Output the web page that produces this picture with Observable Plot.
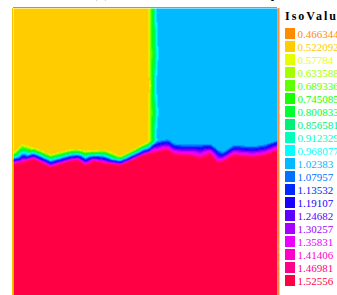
<!DOCTYPE html>
<html><head><meta charset="utf-8">
<script src="https://cdn.jsdelivr.net/npm/d3@7"></script>
<script src="https://cdn.jsdelivr.net/npm/@observablehq/plot@0.6"></script>
<style>
html,body{margin:0;padding:0;background:#fff;overflow:hidden;width:337px;height:295px;}
#wrap{position:relative;width:337px;height:295px;overflow:hidden;background:#fff;}
#title{position:absolute;left:92px;top:-16px;font:bold 16px "Liberation Serif",serif;line-height:16px;white-space:nowrap;color:#000;}
#head{position:absolute;left:285px;top:10px;font:bold 12px "Liberation Serif",serif;line-height:13px;letter-spacing:2px;white-space:nowrap;color:#000;}
#main{position:absolute;left:0;top:0;width:280px;}
#legend{position:absolute;left:285px;top:0;width:60px;height:295px;}
#legend svg, #main svg{max-width:none;}
</style></head>
<body><div id="wrap">
<div id="main"></div>
<div id="title">(c) Concentration at 10 day</div>
<div id="head">IsoValue</div>
<div id="legend"></div>
</div>
<script>
// Iso-value levels and their colours (legend)
const levels = [0.466344,0.522092,0.57784,0.633588,0.689336,0.745085,0.800833,0.856581,0.912329,0.968077,
                1.02383,1.07957,1.13532,1.19107,1.24682,1.30257,1.35831,1.41406,1.46981,1.52556];
const levelColors = ["#FF8C00","#FFCC00","#E6FF00","#A3FF00","#5EFF00","#15FF00","#00FF2F","#00F077","#00FFBB","#00FFFF",
                     "#00B9FF","#0072FF","#0028FF","#1A00FF","#5F00FF","#A600FF","#EA00FF","#FF00CC","#FF0088","#FF0044"];

// Region values
const yellowValue = 0.53;
const blueValue = 1.03;
const redValue = 1.53;

// Field size (cells)
const fieldWidth = 264;
const fieldDepth = 288;

// Top of the red (lower) region
const redTopU = [0,9,20,29,37,47,57,64,72,80,92,107,119,130,137,144,150,155,160,167,174,187,197,204,210,220,227,240,252,264];
const redTopV = [156,154,151,155,159,156,153,152,157,153,155,157,152,147,145,144,142,142,146,147,147,150,146,154.5,153,147,148,149,147,142];

// Lower edge of the yellow (upper-left) region
const yellowEdgeU = [0,9,20,29,37,47,57,64,72,80,92,107,119,130,134];
const yellowEdgeV = [143,135,138.5,142,145.5,143,140.5,140,142,141.5,141,147,141,135,133];

// Lower edge of the blue (upper-right) region
const blueEdgeU = [144,150,155,160,167,174,187,197,204,210,220,227,240,252,264];
const blueEdgeV = [132,130.5,130,134,135,135,135,134.5,140,142.5,136,136,137,135,131];

// Vertical boundary between yellow and blue
const yellowSideU = [0,134,134,134,135,134,134];
const yellowSideV = [0,0,22,47,77,104,127];
const blueSideU = [264,143,144,145,143,145,143];
const blueSideV = [0,0,22,47,77,104,127];

// Bottom corners (red)
const redBottomU = [0,132,264];
const redBottomV = [288,288,288];

const pts = [];
const add = (us, vs, val) => us.forEach((u, i) => pts.push({u, v: vs[i], val}));
add(redTopU, redTopV, redValue);
add(redBottomU, redBottomV, redValue);
add(yellowEdgeU, yellowEdgeV, yellowValue);
add(yellowSideU, yellowSideV, yellowValue);
add(blueEdgeU, blueEdgeV, blueValue);
add(blueSideU, blueSideV, blueValue);

const main = Plot.plot({
  width: 280, height: 296,
  marginLeft: 13, marginRight: 3, marginTop: 8, marginBottom: 0,
  style: {background: "transparent", overflow: "visible", maxWidth: "none"},
  x: {domain: [0, fieldWidth], axis: null},
  y: {domain: [0, fieldDepth], range: [8, 296], axis: null},
  color: {type: "threshold", domain: levels.slice(1), range: levelColors},
  marks: [
    Plot.raster(pts, {x: "u", y: "v", fill: "val", interpolate: "barycentric", pixelSize: 1,
                      x1: 0, y1: 0, x2: fieldWidth, y2: fieldDepth}),
    Plot.ruleX([0], {stroke: "#F5C400", dx: -1}),
    Plot.ruleY([0], {stroke: "#FF8000", dy: -1}),
    Plot.ruleX([fieldWidth], {stroke: "#FF8A3A", strokeWidth: 2, dx: 1})
  ]
});
document.getElementById("main").append(main);

const labels = levels.map(String);
const legend = Plot.plot({
  width: 60, height: 295, margin: 0,
  style: {background: "transparent", overflow: "visible", maxWidth: "none"},
  x: {domain: [0, 1], range: [0, 10], axis: null},
  y: {type: "band", domain: labels, range: [21, 293], padding: 0.15, axis: null},
  color: {type: "identity"},
  marks: [
    Plot.barX(levels, {x1: 0, x2: 1, y: d => String(d), fill: (d, i) => levelColors[i]}),
    Plot.text(levels, {x: 1, y: d => String(d), text: d => String(d), fill: (d, i) => levelColors[i],
                       dx: 2, textAnchor: "start", fontSize: 11, fontFamily: "Liberation Serif"})
  ]
});
document.getElementById("legend").append(legend);
</script>
</body></html>
